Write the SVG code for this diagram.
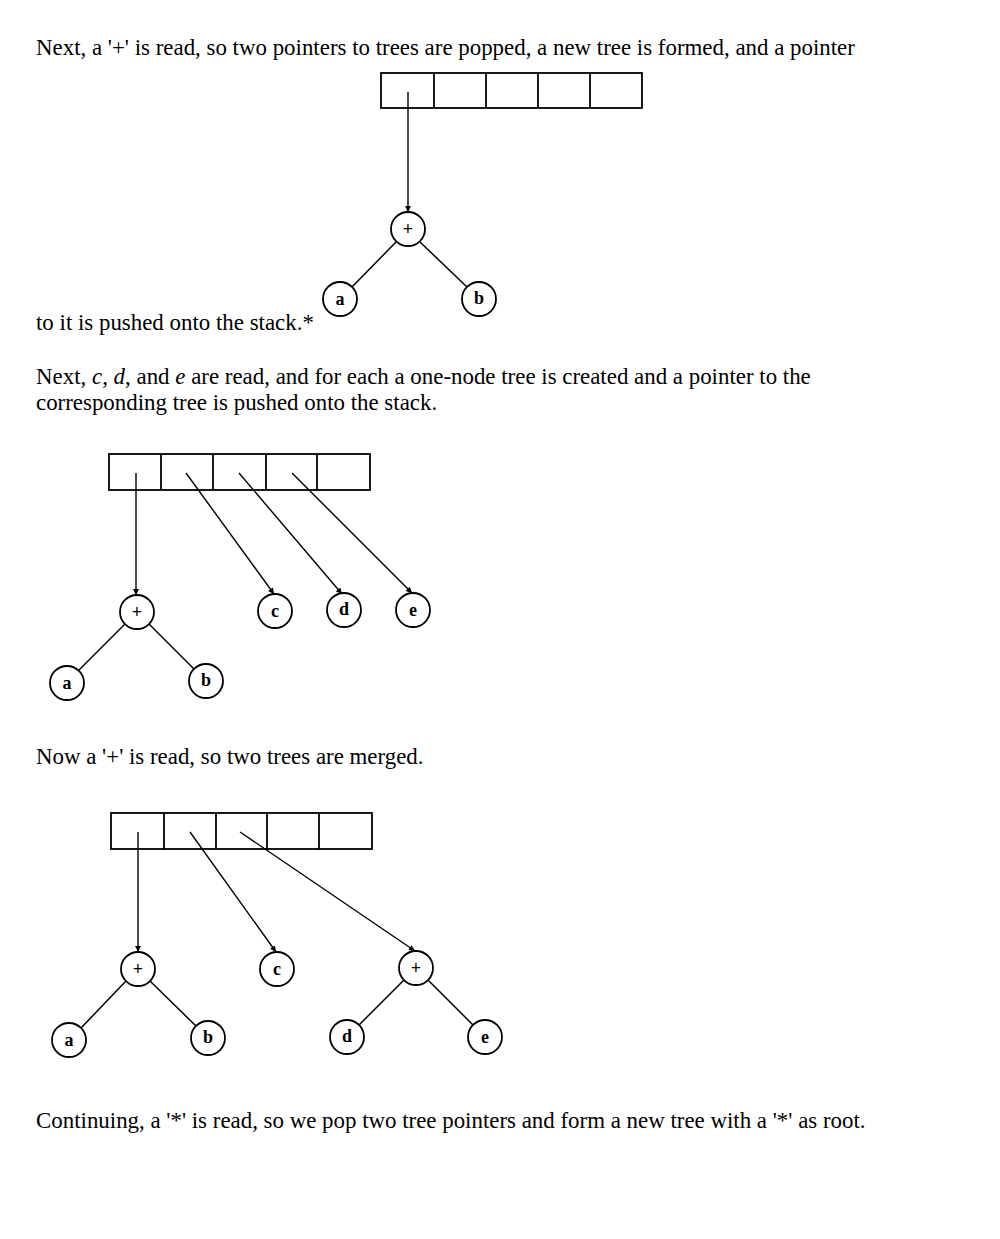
<svg xmlns="http://www.w3.org/2000/svg" width="1000" height="1239" viewBox="0 0 1000 1239">
<style>
.t{font-family:"Liberation Serif","Times New Roman",serif;font-size:22.9px;fill:#000}
.n circle{fill:#fff;stroke:#000;stroke-width:1.8}
.n text{font-family:"Liberation Serif","Times New Roman",serif;font-size:18px;font-weight:bold;text-anchor:middle;fill:#000}
.arr rect,.arr line{fill:none;stroke:#000;stroke-width:1.8}
.e line{stroke:#000;stroke-width:1.5;fill:none}
.p line{stroke:#000;stroke-width:1.4;fill:none;marker-end:url(#ah)}
</style>
<defs>
<marker id="ah" viewBox="0 0 10 10" refX="10" refY="5" markerWidth="7" markerHeight="6" markerUnits="userSpaceOnUse" orient="auto">
<path d="M0,0 L10,5 L0,10 z" fill="#000"/>
</marker>
</defs>
<rect width="1000" height="1239" fill="#fff"/>

<g id="texts">
<text class="t" x="36" y="55">Next, a '+' is read, so two pointers to trees are popped, a new tree is formed, and a pointer</text>
<text class="t" x="36" y="330">to it is pushed onto the stack.*</text>
<text class="t" x="36" y="384">Next, <tspan font-style="italic">c</tspan>, <tspan font-style="italic">d</tspan>, and <tspan font-style="italic">e</tspan> are read, and for each a one-node tree is created and a pointer to the</text>
<text class="t" x="36" y="410">corresponding tree is pushed onto the stack.</text>
<text class="t" x="36" y="764">Now a '+' is read, so two trees are merged.</text>
<text class="t" x="36" y="1128">Continuing, a '*' is read, so we pop two tree pointers and form a new tree with a '*' as root.</text>
</g>

<!-- Diagram 1 -->
<g id="stack1" class="arr">
<rect x="381" y="73" width="261" height="35"/>
<line x1="434" y1="73" x2="434" y2="108"/>
<line x1="486" y1="73" x2="486" y2="108"/>
<line x1="538" y1="73" x2="538" y2="108"/>
<line x1="590" y1="73" x2="590" y2="108"/>
</g>
<g id="connectors1">
<g class="e">
<line x1="396" y1="242" x2="352" y2="287"/>
<line x1="420" y1="242" x2="467" y2="287"/>
</g>
<g class="p">
<line x1="408" y1="92" x2="408" y2="212"/>
</g>
</g>
<g id="d1-plus" class="n"><circle cx="408" cy="229" r="17"/><text x="408" y="235">+</text></g>
<g id="d1-a" class="n"><circle cx="340" cy="299" r="17"/><text x="340" y="305">a</text></g>
<g id="d1-b" class="n"><circle cx="479" cy="299" r="17"/><text x="479" y="304">b</text></g>

<!-- Diagram 2 -->
<g id="stack2" class="arr">
<rect x="109" y="454" width="261" height="36"/>
<line x1="161" y1="454" x2="161" y2="490"/>
<line x1="213" y1="454" x2="213" y2="490"/>
<line x1="266" y1="454" x2="266" y2="490"/>
<line x1="317" y1="454" x2="317" y2="490"/>
</g>
<g id="connectors2">
<g class="e">
<line x1="125" y1="624" x2="79" y2="670"/>
<line x1="149" y1="624" x2="194" y2="669"/>
</g>
<g class="p">
<line x1="136" y1="473" x2="136" y2="595"/>
<line x1="186" y1="473" x2="274" y2="594"/>
<line x1="239" y1="473" x2="342" y2="594"/>
<line x1="292" y1="473" x2="412" y2="593"/>
</g>
</g>
<g id="d2-plus" class="n"><circle cx="137" cy="612" r="17"/><text x="137" y="618">+</text></g>
<g id="d2-a" class="n"><circle cx="67" cy="683" r="17"/><text x="67" y="689">a</text></g>
<g id="d2-b" class="n"><circle cx="206" cy="681" r="17"/><text x="206" y="686">b</text></g>
<g id="d2-c" class="n"><circle cx="275" cy="611" r="17"/><text x="275" y="617">c</text></g>
<g id="d2-d" class="n"><circle cx="344" cy="610" r="17"/><text x="344" y="615">d</text></g>
<g id="d2-e" class="n"><circle cx="413" cy="610" r="17"/><text x="413" y="616">e</text></g>

<!-- Diagram 3 -->
<g id="stack3" class="arr">
<rect x="111" y="813" width="261" height="36"/>
<line x1="164" y1="813" x2="164" y2="849"/>
<line x1="216" y1="813" x2="216" y2="849"/>
<line x1="267" y1="813" x2="267" y2="849"/>
<line x1="319" y1="813" x2="319" y2="849"/>
</g>
<g id="connectors3">
<g class="e">
<line x1="126" y1="981" x2="81" y2="1028"/>
<line x1="150" y1="981" x2="196" y2="1026"/>
<line x1="404" y1="980" x2="359" y2="1025"/>
<line x1="428" y1="980" x2="473" y2="1025"/>
</g>
<g class="p">
<line x1="138" y1="832" x2="138" y2="952"/>
<line x1="190" y1="832" x2="276" y2="952"/>
<line x1="240" y1="832" x2="415" y2="951"/>
</g>
</g>
<g id="d3-plus1" class="n"><circle cx="138" cy="969" r="17"/><text x="138" y="975">+</text></g>
<g id="d3-c" class="n"><circle cx="277" cy="969" r="17"/><text x="277" y="975">c</text></g>
<g id="d3-plus2" class="n"><circle cx="416" cy="968" r="17"/><text x="416" y="974">+</text></g>
<g id="d3-a" class="n"><circle cx="69" cy="1040" r="17"/><text x="69" y="1046">a</text></g>
<g id="d3-b" class="n"><circle cx="208" cy="1038" r="17"/><text x="208" y="1043">b</text></g>
<g id="d3-d" class="n"><circle cx="347" cy="1037" r="17"/><text x="347" y="1042">d</text></g>
<g id="d3-e" class="n"><circle cx="485" cy="1037" r="17"/><text x="485" y="1043">e</text></g>
</svg>
